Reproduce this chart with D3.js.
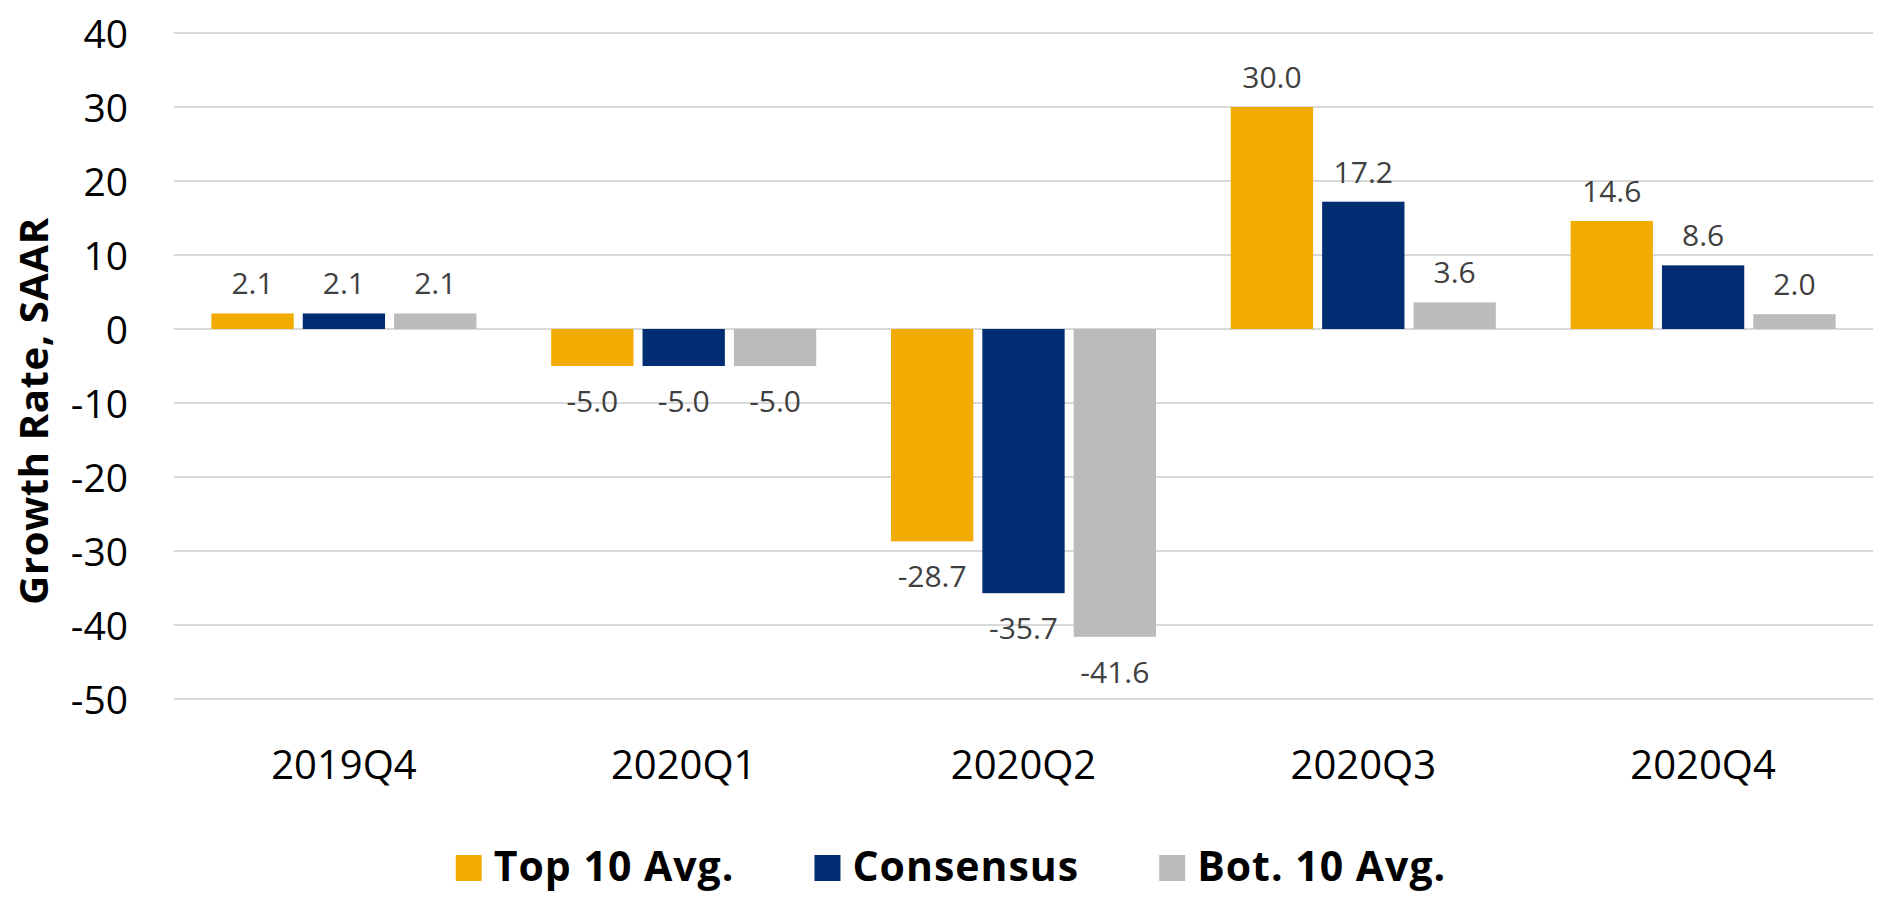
<!DOCTYPE html>
<html>
<head>
<meta charset="utf-8">
<script src="https://cdn.jsdelivr.net/npm/d3@7"></script>
<style>
  body { margin: 0; background: #fff; }
  svg text { font-family: "Open Sans", "Noto Sans", sans-serif; }
</style>
</head>
<body>
<div class="chart"></div>
<script>
var svgWidth = 1883;
var svgHeight = 901;

var quarters = ["2019Q4", "2020Q1", "2020Q2", "2020Q3", "2020Q4"];
var seriesNames = ["Top 10 Avg.", "Consensus", "Bot. 10 Avg."];
var top10 = [2.1, -5.0, -28.7, 30.0, 14.6];
var consensus = [2.1, -5.0, -35.7, 17.2, 8.6];
var bot10 = [2.1, -5.0, -41.6, 3.6, 2.0];
var yTicks = [40, 30, 20, 10, 0, -10, -20, -30, -40, -50];
var colors = ["#F2AB00", "#012D72", "#BCBBBB"];

var plot = { left: 174, right: 1873, top: 33, bottom: 699 };

var svg = d3.select(".chart")
  .append("svg")
  .attr("width", svgWidth)
  .attr("height", svgHeight);

// scales
var x0 = d3.scaleBand()
  .domain(quarters)
  .range([plot.left, plot.right])
  .padding(0);

var groupPad = x0.step() * 0.11;
var x1 = d3.scaleBand()
  .domain(seriesNames)
  .range([groupPad, x0.step() - groupPad])
  .paddingInner(0.099)
  .paddingOuter(0);

var y = d3.scaleLinear()
  .domain([-50, 40])
  .range([plot.bottom, plot.top]);

var color = d3.scaleOrdinal().domain(seriesNames).range(colors);

// gridlines
svg.append("g")
  .selectAll("line")
  .data(yTicks)
  .enter()
  .append("line")
  .attr("x1", plot.left)
  .attr("x2", plot.right)
  .attr("y1", d => y(d))
  .attr("y2", d => y(d))
  .attr("stroke", "#D9D9D9")
  .attr("stroke-width", 2);

// y axis labels (plain hyphen for negatives, like the original)
var leftAxis = d3.axisLeft(y)
  .tickValues(yTicks)
  .tickFormat(d => String(d))
  .tickSize(0)
  .tickPadding(0);
var yAxisG = svg.append("g")
  .attr("transform", "translate(128,0)")
  .call(leftAxis);
yAxisG.select(".domain").remove();
yAxisG.selectAll("text")
  .attr("font-size", 39)
  .attr("fill", "#000")
  .attr("dy", "0.36em")
  .style("font-family", "'Open Sans', sans-serif");

// x axis labels
var bottomAxis = d3.axisBottom(x0).tickSize(0).tickPadding(0);
var xAxisG = svg.append("g")
  .attr("transform", "translate(0,779)")
  .call(bottomAxis);
xAxisG.select(".domain").remove();
xAxisG.selectAll("text")
  .attr("font-size", 40)
  .attr("fill", "#000")
  .attr("dy", "0")
  .style("font-family", "'Open Sans', sans-serif");

// bars
var rows = quarters.map(function(q, i) {
  return { quarter: q, values: [top10[i], consensus[i], bot10[i]] };
});

var groups = svg.selectAll(".group")
  .data(rows)
  .enter()
  .append("g")
  .attr("class", "group")
  .attr("transform", d => `translate(${x0(d.quarter)},0)`);

var cells = groups.selectAll(".cell")
  .data(d => d.values.map((v, j) => ({ name: seriesNames[j], value: v })))
  .enter()
  .append("g");

cells.append("rect")
  .attr("x", d => x1(d.name))
  .attr("width", x1.bandwidth())
  .attr("y", d => y(Math.max(0, d.value)))
  .attr("height", d => Math.abs(y(d.value) - y(0)))
  .attr("fill", d => color(d.name));

cells.append("text")
  .text(d => d.value.toFixed(1))
  .attr("x", d => x1(d.name) + x1.bandwidth() / 2)
  .attr("y", d => d.value >= 0 ? y(d.value) - 19 : y(d.value) + 46)
  .attr("text-anchor", "middle")
  .attr("font-size", 30)
  .attr("fill", "#404040");

// y axis title
svg.append("text")
  .attr("transform", "translate(48,411) rotate(-90)")
  .attr("text-anchor", "middle")
  .attr("font-size", 40)
  .attr("letter-spacing", 0.6)
  .attr("font-weight", "bold")
  .attr("fill", "#000")
  .text("Growth Rate, SAAR");

// legend
var legend = svg.append("g");
var items = legend.selectAll(".item")
  .data(seriesNames)
  .enter()
  .append("g")
  .attr("class", "item");

items.append("rect")
  .attr("width", 26)
  .attr("height", 26)
  .attr("y", 855)
  .attr("fill", d => color(d));

items.append("text")
  .attr("x", 38)
  .attr("y", 881)
  .attr("font-size", 41)
  .attr("letter-spacing", 1)
  .attr("font-weight", "bold")
  .attr("fill", "#000")
  .text(d => d);

var cursor = 0;
items.each(function() {
  var w = 38 + d3.select(this).select("text").node().getComputedTextLength();
  d3.select(this).attr("transform", `translate(${cursor},0)`);
  cursor += w + 80;
});
var totalW = cursor - 80;
legend.attr("transform", `translate(${951 - totalW / 2},0)`);
</script>
</body>
</html>
